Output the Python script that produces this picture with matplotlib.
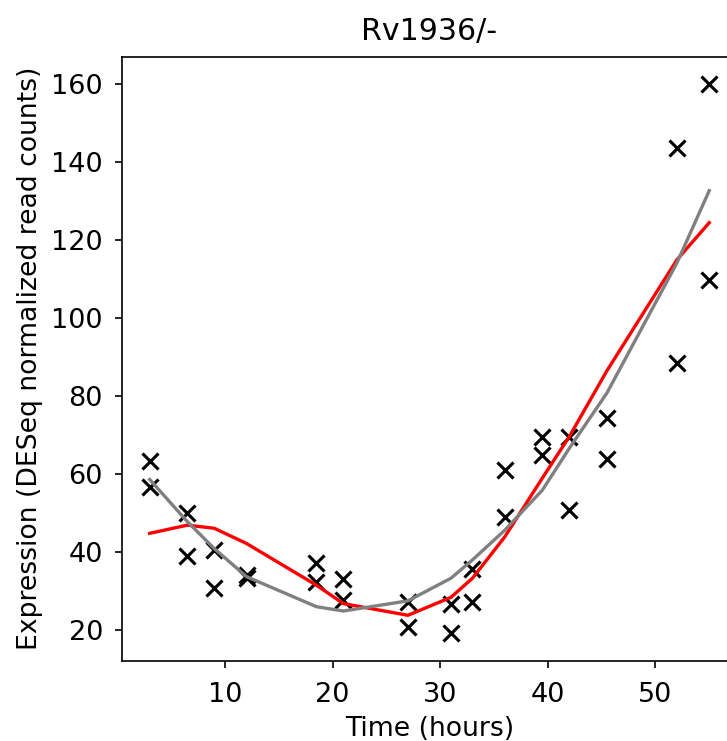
import matplotlib
matplotlib.use("Agg")
from matplotlib import pyplot as plt
import numpy as np

# time points (hours) and the two replicate measurements
time_pts = [3, 6.5, 9, 12, 18.5, 21, 27, 31, 33, 36, 39.5, 42, 45.5, 52, 55]
rep_a = [63.4, 49.9, 40.5, 33.3, 37.3, 33.0, 27.3, 26.8, 35.6, 61.0, 69.4, 69.4, 74.3, 143.5, 159.9]
rep_b = [56.6, 39.1, 30.7, 34.0, 32.4, 27.7, 20.8, 19.2, 27.3, 49.1, 64.9, 50.8, 63.8, 88.5, 109.6]

# fitted curves
fit_red = [44.8, 46.9, 46.1, 42.2, 31.5, 26.8, 23.8, 28.4, 33.3, 43.9, 59.0, 69.6, 86.5, 114.9, 124.4]
fit_gray = [58.6, 47.8, 40.9, 33.7, 26.0, 24.9, 27.5, 33.3, 38.0, 45.6, 55.9, 66.6, 80.8, 114.1, 132.6]

plt.rcParams['font.size'] = 12

DPI = 150
fig = plt.figure(figsize=(727 / DPI, 741 / DPI), dpi=DPI)
# axes runs past the right edge of the picture (cropped original)
ax = fig.add_axes([121.7 / 727, (741 - 660.7) / 741, (737.2 - 121.7) / 727, (660.7 - 56.7) / 741])

t_all = time_pts + time_pts
ax.plot(t_all, rep_a + rep_b, 'x', color='black', markersize=8, markeredgewidth=1.5)
ax.plot(time_pts, fit_red, color='red', linewidth=1.6)
ax.plot(time_pts, fit_gray, color='gray', linewidth=1.6)

ax.tick_params(labelsize=13)
ax.tick_params(axis='x', pad=6.5)
ax.tick_params(axis='y', pad=5.5)
ax.set_xlabel('Time (hours)', fontsize=12.8)
ax.set_ylabel('Expression (DESeq normalized read counts)', fontsize=12.8)
ax.set_title('Rv1936/-', fontsize=14.4, pad=8)

fig.savefig('out.png', dpi=DPI)
